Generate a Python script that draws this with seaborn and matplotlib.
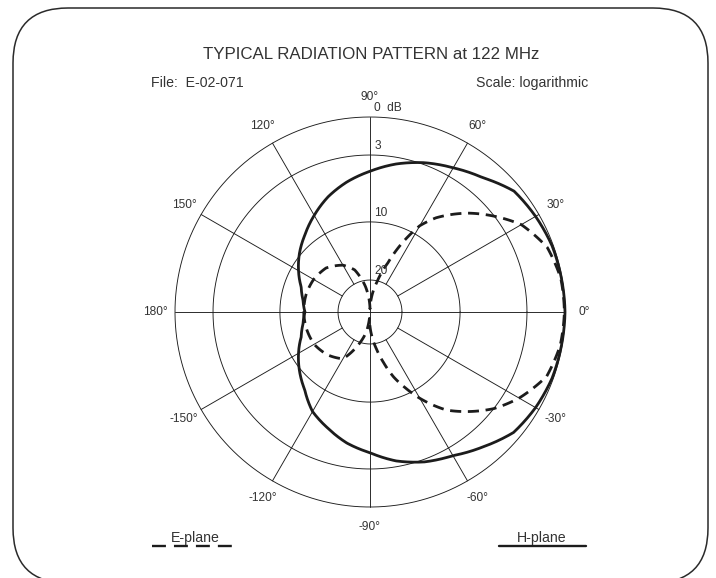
import numpy as np
import matplotlib
matplotlib.use("Agg")
import matplotlib.pyplot as plt
import seaborn as sns
from matplotlib.patches import FancyBboxPatch
from matplotlib.lines import Line2D

# --- data (angle in degrees, level in dB below max) ---
h_angles = [-180, -170, -160, -150, -140, -130, -120, -110, -100, -90, -80, -70,
            -60, -50, -40, -30, -20, -10, 0, 10, 20, 30, 40, 50, 60, 70, 80,
            90, 100, 110, 120, 130, 140, 150, 160, 170, 180]
h_db = [14.3, 13.8, 12.9, 11.3, 9.8, 8.8, 7.4, 6.5, 5.5, 4.7, 3.6, 2.8,
        2.3, 1.5, 0.6, 0.3, 0.1, 0.05, 0.0, 0.05, 0.1, 0.3, 0.55, 1.55, 2.25, 2.85, 3.7,
        4.7, 5.6, 6.6, 7.75, 8.85, 9.8, 11.3, 12.9, 13.8, 14.3]

e_angles = [-180, -165, -150, -135, -120, -110, -100, -95, -90, -85, -80, -75,
            -70, -65, -60, -52, -45, -38, -30, -20, -10, 0, 10, 20, 30, 38,
            45, 55, 60, 65, 70, 77, 85, 90, 95, 100, 110, 120, 135, 150, 165, 180]
e_db = [14.1, 14.2, 14.4, 15.1, 16.2, 19.4, 24.0, 28.0, 25.5, 22.0, 19.0, 16.5,
        13.6, 11.1, 9.0, 6.4, 4.7, 3.0, 1.8, 0.55, 0.15, 0.05, 0.1, 0.5, 1.6, 3.1,
        4.8, 7.4, 9.0, 12.4, 16.5, 20.4, 26.0, 29.0, 25.5, 22.0, 17.8, 16.2, 14.8, 14.3, 14.1, 14.1]

# logarithmic radial scale of the chart (dB -> fraction of outer radius)
ring_db = [0, 3, 10, 20, 30]
ring_r = [1.0, 0.805, 0.462, 0.164, 0.0]
ring_labels = ["0  dB", "3", "10", "20"]

angle_ticks = [0, 30, 60, 90, 120, 150, 180, -150, -120, -90, -60, -30]


def to_r(db):
    return np.interp(db, ring_db, ring_r)


W, H = 716, 578
sns.set_style("white")
plt.rcParams['font.family'] = ['Liberation Sans', 'DejaVu Sans']
txt = '#333333'
ink = '#1c1c1c'

fig = plt.figure(figsize=(W / 100, H / 100), dpi=100)


def py(y):
    # reference pixel row -> bottom-up pixel coordinate
    return H - y


# background layer in pixel units: frame, headings, legend
bg = fig.add_axes([0, 0, 1, 1])
bg.set_xlim(0, W)
bg.set_ylim(0, H)
bg.axis('off')
bg.add_patch(FancyBboxPatch((13, py(583)), 695, 575, boxstyle="round,pad=0,rounding_size=55",
                            fc='none', ec='#2a2a2a', lw=1.1, clip_on=False))
bg.text(371, py(59), "TYPICAL RADIATION PATTERN at 122 MHz", ha='center', va='baseline',
        fontsize=12.2, color=txt)
bg.text(151, py(87), "File:  E-02-071", ha='left', va='baseline', fontsize=10.2, color=txt)
bg.text(588, py(87), "Scale: logarithmic", ha='right', va='baseline', fontsize=10.2, color=txt)

bg.text(195, py(542), "E-plane", ha='center', va='baseline', fontsize=10.2, color=txt)
le = Line2D([152, 233], [py(546), py(546)], color=ink, lw=1.7)
le.set_dashes((5.9, 3.4))
bg.add_line(le)
bg.text(542, py(542), "H-plane", ha='center', va='baseline', fontsize=10.2, color=txt)
bg.add_line(Line2D([499, 586], [py(546), py(546)], color=ink, lw=1.7))

# polar chart, centre (370, 312) px, radius 195 px
cx, cy, R = 370, 312, 195
ax = fig.add_axes([(cx - R) / W, (H - cy - R) / H, 2 * R / W, 2 * R / H], projection='polar')
ax.set_facecolor('none')
ax.set_ylim(0, 1)
ax.set_xticks([])
ax.set_yticks([])
ax.grid(False)
ax.spines['polar'].set_visible(False)

circ = np.linspace(0, 2 * np.pi, 400)
for r in ring_r[:-1]:
    ax.plot(circ, np.full_like(circ, r), color=ink, lw=0.65, clip_on=False)
for a in range(0, 360, 30):
    r0 = 0 if a % 90 == 0 else ring_r[3]
    ax.plot([np.deg2rad(a)] * 2, [r0, 1], color=ink, lw=0.65, clip_on=False)

for a in angle_ticks:
    ax.text(np.deg2rad(a), 1.1, f"{a}°", ha='center', va='center', fontsize=8.6, color=txt)
for lab, r in zip(ring_labels, ring_r):
    ax.annotate(lab, xy=(np.pi / 2, r), xytext=(3, 2), textcoords='offset points',
                ha='left', va='bottom', fontsize=8.6, color=txt)

sns.lineplot(x=np.deg2rad(h_angles), y=to_r(h_db), ax=ax, sort=False, estimator=None,
             color=ink, lw=2.0)
sns.lineplot(x=np.deg2rad(e_angles), y=to_r(e_db), ax=ax, sort=False, estimator=None,
             color=ink, lw=2.0)
ax.lines[-1].set_dashes((4, 2.4))
# let the polar projection draw each segment as a spiral arc, not a chord
for ln in ax.lines[-2:]:
    ln.get_path()._interpolation_steps = 30
    ln.set_clip_on(False)
ax.set_xlabel('')
ax.set_ylabel('')

fig.savefig('out.png', dpi=100)
